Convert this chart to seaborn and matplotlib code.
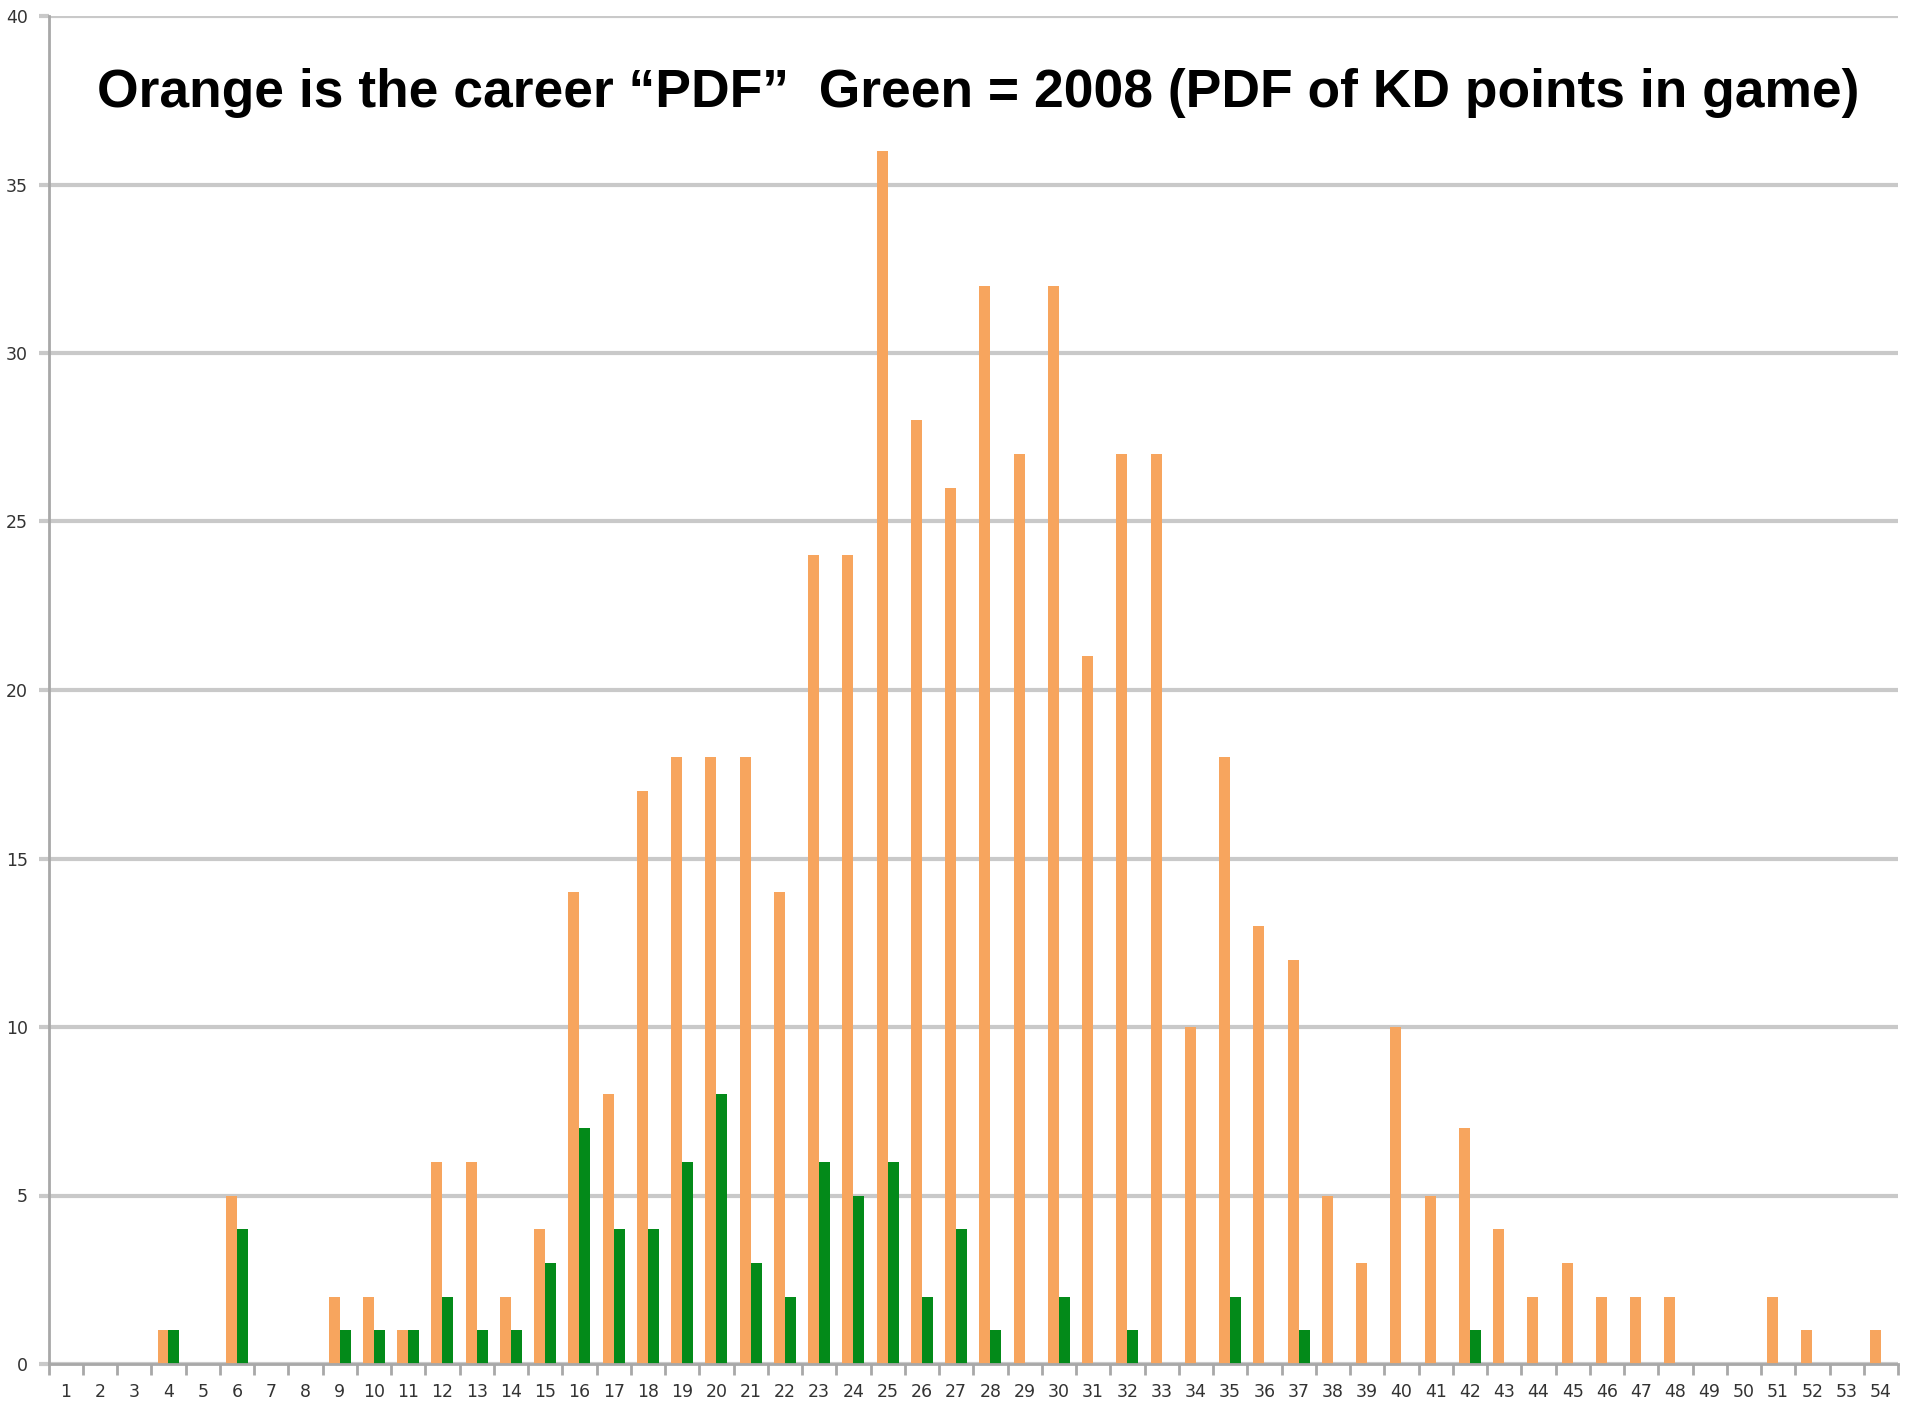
import numpy as np
import pandas as pd
import matplotlib
matplotlib.use("Agg")
import matplotlib.pyplot as plt
from matplotlib.ticker import FixedLocator
import seaborn as sns

# Points scored per game (1..54)
points = list(range(1, 55))

# Career count of games at each point total
career = [0, 0, 0, 1, 0, 5, 0, 0, 2, 2,
          1, 6, 6, 2, 4, 14, 8, 17, 18, 18,
          18, 14, 24, 24, 36, 28, 26, 32, 27, 32,
          21, 27, 27, 10, 18, 13, 12, 5, 3, 10,
          5, 7, 4, 2, 3, 2, 2, 2, 0, 0,
          2, 1, 0, 1]

# 2008 season count of games at each point total
season_2008 = [0, 0, 0, 1, 0, 4, 0, 0, 1, 1,
               1, 2, 1, 1, 3, 7, 4, 4, 6, 8,
               3, 2, 6, 5, 6, 2, 4, 1, 0, 2,
               0, 1, 0, 0, 2, 0, 1, 0, 0, 0,
               0, 1, 0, 0, 0, 0, 0, 0, 0, 0,
               0, 0, 0, 0]

y_ticks = [0, 5, 10, 15, 20, 25, 30, 35, 40]
title = "Orange is the career \u201cPDF\u201d  Green = 2008 (PDF of KD points in game)"

labels = [str(p) for p in points]
df = pd.DataFrame({
    "points": labels * 2,
    "games": career + season_2008,
    "series": ["Career"] * len(points) + ["2008"] * len(points),
})

sns.set_theme(style="white")
W, H = 1905, 1407
fig = plt.figure(figsize=(W / 100, H / 100), dpi=100)
ax = fig.add_axes([48.6 / W, 1 - 1364 / H, (1898 - 48.6) / W, (1364 - 16) / H])

sns.barplot(data=df, x="points", y="games", hue="series", order=labels,
            hue_order=["Career", "2008"],
            palette={"Career": "#F7A55E", "2008": "#038A19"},
            width=0.64, dodge=True, saturation=1, linewidth=0,
            legend=False, ax=ax)

ax.set_xlim(-0.5, len(points) - 0.5)
ax.set_ylim(0, 40)
ax.set_axisbelow(True)

ax.yaxis.set_major_locator(FixedLocator(y_ticks))
ax.yaxis.grid(True, color="#C9C9C9", linewidth=3)
ax.xaxis.grid(False)

for side in ("top", "right"):
    ax.spines[side].set_visible(False)
for side in ("left", "bottom"):
    ax.spines[side].set_color("#A8A8A8")
    ax.spines[side].set_linewidth(2)

ax.tick_params(axis="y", which="major", length=7, width=3, color="#C9C9C9",
               labelsize=12.5, labelcolor="#333333", pad=8, left=True)
ax.tick_params(axis="x", which="major", length=0, labelsize=12.5,
               labelcolor="#333333", pad=14)
ax.set_xticks(np.arange(len(points)))
ax.set_xticklabels(labels)
ax.set_xticks(np.arange(len(points) + 1) - 0.5, minor=True)
ax.tick_params(axis="x", which="minor", length=8, width=2, color="#A8A8A8",
               bottom=True)
ax.set_xlabel("")
ax.set_ylabel("")

fig.text(978 / W, 1 - 107 / H, title, ha="center", va="baseline",
         fontsize=38.4, fontweight="bold", family="Liberation Sans", color="black")

fig.savefig("out.png", dpi=100, facecolor="white")
